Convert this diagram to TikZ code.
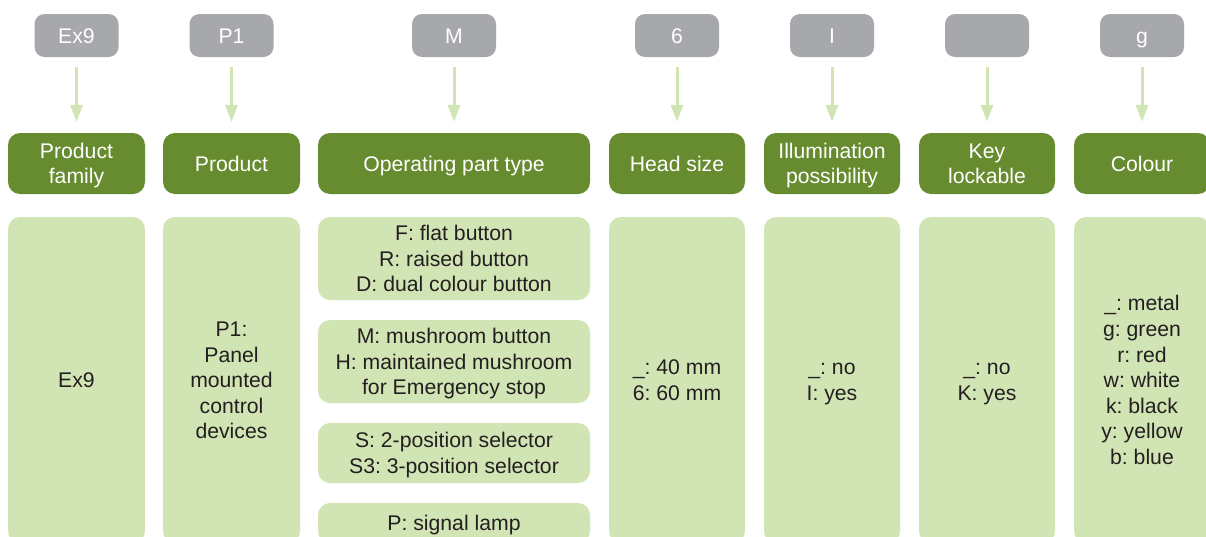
\documentclass[tikz,border=0pt]{standalone}
\usepackage{fontspec}
\setmainfont{Liberation Sans}
\usetikzlibrary{arrows.meta}
\definecolor{pillgray}{HTML}{A7A8AB}
\definecolor{darkgreen}{HTML}{678B2F}
\definecolor{lightgreen}{HTML}{D1E4B3}
\definecolor{txt}{HTML}{231F20}
\newcommand\mlines[1]{\begin{tabular}[b]{@{}c@{}}#1\end{tabular}}
\frenchspacing
\begin{document}
\begin{tikzpicture}[x=1pt,y=-1pt,
  txtfont/.style={font=\fontsize{21.2}{25.6}\selectfont\frenchspacing, text depth=0pt},
  n1/.style={text height=15.2pt},
  n2/.style={text height=40.8pt},
  n3/.style={text height=66.4pt},
  n5/.style={text height=117.6pt},
  n7/.style={text height=168.8pt},
  pill/.style={txtfont, n1, fill=pillgray, rounded corners=10pt, minimum width=84pt, minimum height=43pt, inner sep=0pt, text=white},
  head/.style={txtfont, fill=darkgreen, rounded corners=12pt, minimum height=61pt, inner sep=0pt, text=white},
  body/.style={txtfont, fill=lightgreen, rounded corners=12pt, inner sep=0pt, text=txt},
  arr/.style={draw=lightgreen, line width=3pt, -{Triangle[width=12pt,length=17pt]}, shorten <=10pt, shorten >=11pt}]
\useasboundingbox (0,0) rectangle (1206,536);
\clip (0,0) rectangle (1206,536);
\fill[white] (0,0) rectangle (1206,536);
% pills
\node[pill] (p1) at (76.5,35.5) {Ex9};
\node[pill] (p2) at (231.5,35.5) {P1};
\node[pill] (p3) at (454,35.5) {M};
\node[pill] (p4) at (677,35.5) {6};
\node[pill] (p5) at (832,35.5) {I};
\node[pill] (p6) at (987,35.5) {};
\node[pill] (p7) at (1142,35.5) {g};
% headers
\node[head, n2, minimum width=137pt] (h1) at (76.5,163.5) {\mlines{Product\\family}};
\node[head, n1, minimum width=137pt] (h2) at (231.5,163.5) {Product};
\node[head, n1, minimum width=272pt] (h3) at (454,163.5) {Operating part type};
\node[head, n1, minimum width=136pt] (h4) at (677,163.5) {Head size};
\node[head, n2, minimum width=136pt] (h5) at (832,163.5) {\mlines{Illumination\\possibility}};
\node[head, n2, minimum width=136pt] (h6) at (987,163.5) {\mlines{Key\\lockable}};
\node[head, n1, minimum width=136pt] (h7) at (1142,163.5) {Colour};
% arrows
\foreach \i in {1,...,7} \draw[arr] (p\i.south) -- (h\i.north);
% bodies
\node[body, n1, minimum width=137pt, minimum height=326pt] (b1) at (76.5,380) {Ex9};
\node[body, n5, minimum width=137pt, minimum height=326pt] (b2) at (231.5,380) {\mlines{P1:\\Panel\\mounted\\control\\devices}};
\node[body, n3, minimum width=272pt, minimum height=83pt] (b3a) at (454,258.5) {\mlines{F: flat button\\R: raised button\\D: dual colour button}};
\node[body, n3, minimum width=272pt, minimum height=83pt] (b3b) at (454,361.5) {\mlines{M: mushroom button\\H: maintained mushroom\\for Emergency stop}};
\node[body, n2, minimum width=272pt, minimum height=60pt] (b3c) at (454,453) {\mlines{S: 2-position selector\\S3: 3-position selector}};
\node[body, n1, minimum width=272pt, minimum height=40pt] (b3d) at (454,523) {P: signal lamp};
\node[body, n2, minimum width=136pt, minimum height=326pt] (b4) at (677,380) {\mlines{\_: 40 mm\\6: 60 mm}};
\node[body, n2, minimum width=136pt, minimum height=326pt] (b5) at (832,380) {\mlines{\_: no\\I: yes}};
\node[body, n2, minimum width=136pt, minimum height=326pt] (b6) at (987,380) {\mlines{\_: no\\K: yes}};
\node[body, n7, minimum width=136pt, minimum height=326pt] (b7) at (1142,380) {\mlines{\_: metal\\g: green\\r: red\\w: white\\k: black\\y: yellow\\b: blue}};
\end{tikzpicture}
\end{document}
